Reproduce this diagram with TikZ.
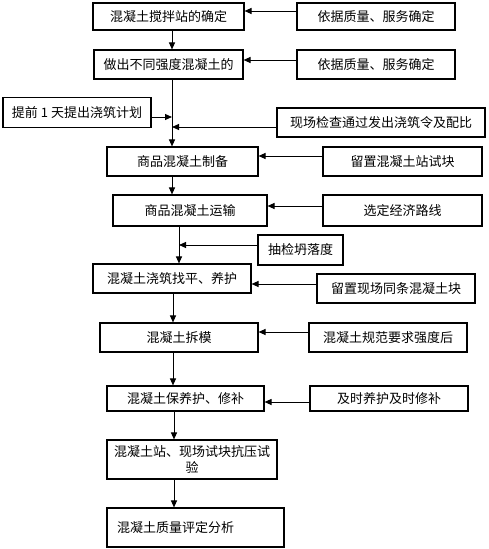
\documentclass[tikz,border=0pt]{standalone}
\usepackage{fontspec}
\setmainfont{Noto Sans CJK SC}
\usetikzlibrary{arrows.meta,positioning,calc}
\tikzset{
  mainbox/.style={draw=black,line width=1.1pt,fill=white,inner sep=0pt,
    minimum height=29pt,align=center,font=\fontsize{13}{16}\selectfont},
  sidebox/.style={draw=black,line width=1.1pt,fill=white,inner sep=0pt,
    minimum height=29pt,align=center,font=\fontsize{13}{16}\selectfont},
  flowarrow/.style={-{Triangle[length=7pt,width=6pt]},line width=1pt,draw=black},
}

\begin{document}
\begin{tikzpicture}[x=1pt,y=-1pt]
  \useasboundingbox (0,0) rectangle (489,549);
  % main column
  \node[mainbox,minimum width=151pt,minimum height=27pt] (a1) at (168.5,16.5) {混凝土搅拌站的确定};
  \node[mainbox,minimum width=149pt] (a2) at (168.5,64.5) {做出不同强度混凝土的};
  \node[mainbox,minimum width=151pt] (a5) at (182.5,161.5) {商品混凝土制备};
  \node[mainbox,minimum width=154pt,minimum height=31pt] (a6) at (190,210.5) {商品混凝土运输};
  \node[mainbox,minimum width=158pt] (a8) at (172,278.5) {混凝土浇筑找平、养护};
  \node[mainbox,minimum width=158pt] (a9) at (179,337.5) {混凝土拆模};
  \node[mainbox,minimum width=157pt,minimum height=25pt] (a10) at (185.5,398.5) {混凝土保养护、修补};
  \node[mainbox,minimum width=170pt,minimum height=39pt] (a11) at (192,459.5) {混凝土站、现场试块抗压试\\验};
  \node[mainbox,minimum width=177pt,minimum height=39pt,text width=157pt,align=left] (a12) at (195.5,527.5) {混凝土质量评定分析};
  % side boxes
  \node[sidebox,minimum width=158pt,minimum height=27pt] (r1) at (376,16.5) {依据质量、服务确定};
  \node[sidebox,minimum width=158pt] (r2) at (376,64.5) {依据质量、服务确定};
  \node[sidebox,minimum width=148pt,minimum height=30pt] (l3) at (77,112.5) {提前 1 天提出浇筑计划};
  \node[sidebox,minimum width=208pt] (r4) at (381,122.5) {现场检查通过发出浇筑令及配比};
  \node[sidebox,minimum width=159pt] (r5) at (402.5,161.5) {留置混凝土站试块};
  \node[sidebox,minimum width=159pt,minimum height=31pt] (r6) at (402.5,210.5) {选定经济路线};
  \node[sidebox,minimum width=85pt,minimum height=30pt] (s7) at (300.5,250) {抽检坍落度};
  \node[sidebox,minimum width=158pt] (r8) at (396,288.5) {留置现场同条混凝土块};
  \node[sidebox,minimum width=158pt] (r9) at (388,337.5) {混凝土规范要求强度后};
  \node[sidebox,minimum width=158pt,minimum height=25pt] (r10) at (389,398.5) {及时养护及时修补};
  % junctions on the main line
  \coordinate (j3) at (172,117);
  \coordinate (j4) at (172,127);
  \coordinate (j7) at (179,245);
  \coordinate (j9) at (173,0);
  \coordinate (j10) at (174,0);
  % main flow
  \draw[flowarrow] (a1.south -| j3) -- (a2.north -| j3);
  \draw[flowarrow] (a2.south -| j3) -- (a5.north -| j3);
  \draw[flowarrow] (a5.south -| j3) -- (a6.north -| j3);
  \draw[flowarrow] (a6.south -| j7) -- (a8.north -| j7);
  \draw[flowarrow] (a8.south -| j9) -- (a9.north -| j9);
  \draw[flowarrow] (a9.south -| j9) -- (a10.north -| j9);
  \draw[flowarrow] (a10.south -| j10) -- (a11.north -| j10);
  \draw[flowarrow] (a11.south -| j10) -- (a12.north -| j10);
  % side inputs
  \draw[flowarrow] ([yshift=5.5pt]r1.west) -- ([yshift=5.5pt]r1.west -| a1.east);
  \draw[flowarrow] ([yshift=4.5pt]r2.west) -- ([yshift=4.5pt]r2.west -| a2.east);
  \draw[flowarrow] (l3.east |- j3) -- (j3);
  \draw[flowarrow] (r4.west |- j4) -- (j4);
  \draw[flowarrow] ([yshift=5.5pt]r5.west) -- ([yshift=5.5pt]r5.west -| a5.east);
  \draw[flowarrow] ([yshift=4.5pt]r6.west) -- ([yshift=4.5pt]r6.west -| a6.east);
  \draw[flowarrow] (s7.west |- j7) -- (j7);
  \draw[flowarrow] ([yshift=4.5pt]r8.west) -- ([yshift=4.5pt]r8.west -| a8.east);
  \draw[flowarrow] ([yshift=5.5pt]r9.west) -- ([yshift=5.5pt]r9.west -| a9.east);
  \draw[flowarrow] ([yshift=-3.5pt]r10.west) -- ([yshift=-3.5pt]r10.west -| a10.east);
\end{tikzpicture}
\end{document}
